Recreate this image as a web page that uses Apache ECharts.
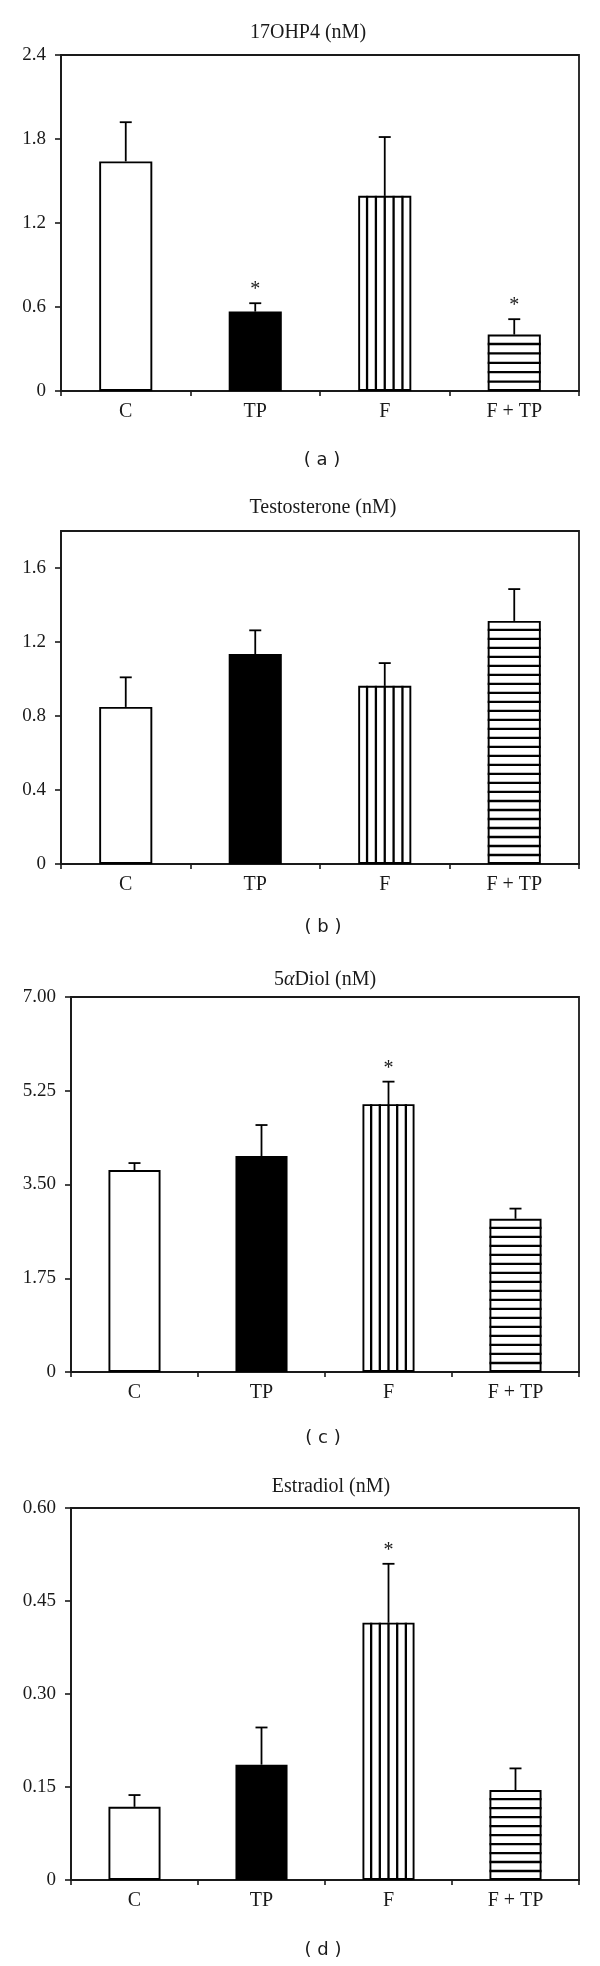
<!DOCTYPE html>
<html>
<head>
<meta charset="utf-8">
<script src="https://cdn.jsdelivr.net/npm/echarts@6/dist/echarts.min.js"></script>
<style>
html,body{margin:0;padding:0;background:#fff;}
#main{width:600px;height:1966px;}
</style>
</head>
<body>
<div id="main"></div>
<script>
// ---------- data ----------
const categories = ['C', 'TP', 'F', 'F + TP'];

const ohp4Mean = [1.64, 0.567, 1.394, 0.403];
const ohp4Err  = [0.28, 0.06, 0.42, 0.11];
const ohp4Star = [0, 1, 0, 1];
const ohp4TickValues = [0, 0.6, 1.2, 1.8, 2.4];
const ohp4TickLabels = ['0', '0.6', '1.2', '1.8', '2.4'];

const testoMean = [0.849, 1.135, 0.963, 1.314];
const testoErr  = [0.16, 0.128, 0.123, 0.172];
const testoStar = [0, 0, 0, 0];
const testoTickValues = [0, 0.4, 0.8, 1.2, 1.6];
const testoTickLabels = ['0', '0.4', '0.8', '1.2', '1.6'];

const diolMean = [3.77, 4.03, 5.0, 2.86];
const diolErr  = [0.13, 0.58, 0.42, 0.19];
const diolStar = [0, 0, 1, 0];
const diolTickValues = [0, 1.75, 3.5, 5.25, 7];
const diolTickLabels = ['0', '1.75', '3.50', '5.25', '7.00'];

const estraMean = [0.118, 0.186, 0.415, 0.145];
const estraErr  = [0.019, 0.06, 0.095, 0.035];
const estraStar = [0, 0, 1, 0];
const estraTickValues = [0, 0.15, 0.3, 0.45, 0.6];
const estraTickLabels = ['0', '0.15', '0.30', '0.45', '0.60'];

const panelTitles = ['17OHP4 (nM)', 'Testosterone (nM)', '5{i|α}Diol (nM)', 'Estradiol (nM)'];
const panelLetters = ['( a )', '( b )', '( c )', '( d )'];
const fillKinds = ['white', 'black', 'vertical', 'horizontal'];

// ---------- layout / style ----------
const panels = [
  {mean: ohp4Mean, err: ohp4Err, star: ohp4Star, tv: ohp4TickValues, tl: ohp4TickLabels, min: 0, max: 2.4, interval: 0.6,
   grid: {left: 61, top: 55, width: 518, height: 336}, titlePos: [308, 33], letterPos: [322, 460]},
  {mean: testoMean, err: testoErr, star: testoStar, tv: testoTickValues, tl: testoTickLabels, min: 0, max: 1.8, interval: 0.4,
   grid: {left: 61, top: 531, width: 518, height: 333}, titlePos: [323, 508], letterPos: [323, 927]},
  {mean: diolMean, err: diolErr, star: diolStar, tv: diolTickValues, tl: diolTickLabels, min: 0, max: 7, interval: 1.75,
   grid: {left: 71, top: 997, width: 508, height: 375}, titlePos: [325, 980], letterPos: [323, 1438]},
  {mean: estraMean, err: estraErr, star: estraStar, tv: estraTickValues, tl: estraTickLabels, min: 0, max: 0.6, interval: 0.15,
   grid: {left: 71, top: 1508, width: 508, height: 372}, titlePos: [331, 1487], letterPos: [323, 1950]}
];

const INK = '#1a1a1a';
const SERIF = '"Liberation Serif", "Times New Roman", serif';
const BAR_FRAC = 0.41;

const chart = echarts.init(document.getElementById('main'), null, {renderer: 'canvas'});

const grids = [], xAxes = [], yAxes = [], series = [], graphics = [];

panels.forEach((p, gi) => {
  grids.push(Object.assign({show: true, borderColor: INK, borderWidth: 1.8, backgroundColor: 'transparent'}, p.grid));
  xAxes.push({
    type: 'category', gridIndex: gi, data: categories, boundaryGap: true,
    axisLine: {lineStyle: {color: INK, width: 1.8}},
    axisTick: {show: true, length: 5, lineStyle: {color: INK, width: 1.6}, alignWithLabel: false},
    axisLabel: {color: INK, fontFamily: SERIF, fontSize: 20, margin: 11},
    splitLine: {show: false}
  });
  yAxes.push({
    type: 'value', gridIndex: gi, min: p.min, max: p.max, interval: p.interval,
    axisLine: {show: true, lineStyle: {color: INK, width: 1.8}},
    axisTick: {show: true, length: 6, lineStyle: {color: INK, width: 1.6}, customValues: p.tv},
    axisLabel: {color: INK, fontFamily: SERIF, fontSize: 19, margin: 15, customValues: p.tv,
      formatter: (v) => {
        const i = p.tv.findIndex(t => Math.abs(t - v) < 1e-9);
        return i >= 0 ? p.tl[i] : '';
      }},
    splitLine: {show: false}
  });
  series.push({
    type: 'bar', xAxisIndex: gi, yAxisIndex: gi, barWidth: (BAR_FRAC * 100) + '%',
    data: p.mean.map((v, i) => ({value: v, itemStyle: {color: fillKinds[i] === 'black' ? '#000' : '#fff'}})),
    itemStyle: {borderColor: '#000', borderWidth: 1.9},
    silent: true, animation: false, z: 2
  });
  series.push({
    type: 'custom', xAxisIndex: gi, yAxisIndex: gi, animation: false, silent: true, z: 3,
    data: p.mean.map((v, i) => [i, v, p.err[i], p.star[i]]),
    renderItem: (params, api) => {
      const idx = api.value(0), mean = api.value(1), err = api.value(2), star = api.value(3);
      const base = api.coord([idx, 0]);
      const top = api.coord([idx, mean]);
      const et = api.coord([idx, mean + err]);
      const bw = api.size([1, 0])[0] * BAR_FRAC;
      const x0 = top[0] - bw / 2, x1 = top[0] + bw / 2;
      const children = [];
      const kind = fillKinds[idx];
      const stripe = {stroke: '#000', lineWidth: 2.3};
      if (kind === 'vertical') {
        const n = Math.round(bw / 8.7);
        for (let k = 1; k < n; k++) {
          const x = x0 + k * bw / n;
          children.push({type: 'line', shape: {x1: x, y1: top[1], x2: x, y2: base[1]}, style: stripe});
        }
      } else if (kind === 'horizontal') {
        const h = base[1] - top[1];
        const n = Math.max(1, Math.round(h / 8.9));
        for (let k = 1; k < n; k++) {
          const y = base[1] - k * h / n;
          children.push({type: 'line', shape: {x1: x0, y1: y, x2: x1, y2: y}, style: stripe});
        }
      }
      // error bar
      children.push({type: 'line', shape: {x1: top[0], y1: top[1], x2: top[0], y2: et[1]}, style: {stroke: '#000', lineWidth: 1.8}});
      children.push({type: 'line', shape: {x1: top[0] - 6, y1: et[1], x2: top[0] + 6, y2: et[1]}, style: {stroke: '#000', lineWidth: 1.8}});
      if (star) {
        children.push({type: 'text', x: top[0], y: et[1] - 3,
          style: {text: '*', textAlign: 'center', textVerticalAlign: 'bottom', fill: INK, font: '20px ' + SERIF}});
      }
      return {type: 'group', children};
    }
  });
  graphics.push({
    type: 'text', x: p.titlePos[0], y: p.titlePos[1],
    style: {text: panelTitles[gi], textAlign: 'center', textVerticalAlign: 'middle', fill: INK,
      font: '20px ' + SERIF,
      rich: {i: {fontStyle: 'italic', fontFamily: SERIF, fontSize: 20, fill: INK}}}
  });
  graphics.push({
    type: 'text', x: p.letterPos[0], y: p.letterPos[1],
    style: {text: panelLetters[gi], textAlign: 'center', textVerticalAlign: 'middle', fill: INK,
      font: '18px "DejaVu Sans", sans-serif'}
  });
});

chart.setOption({
  backgroundColor: '#fff',
  animation: false,
  grid: grids,
  xAxis: xAxes,
  yAxis: yAxes,
  series: series,
  graphic: graphics
});
</script>
</body>
</html>
